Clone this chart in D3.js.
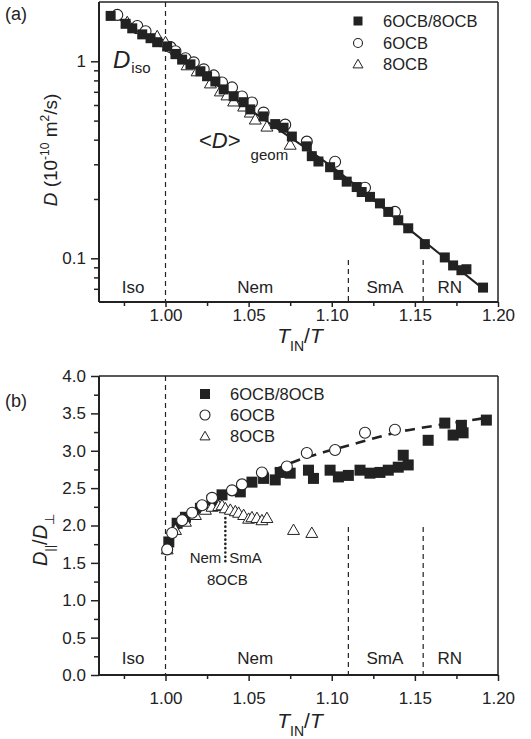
<!DOCTYPE html>
<html><head><meta charset="utf-8">
<script src="https://cdn.jsdelivr.net/npm/d3@7"></script>
<style>
body{margin:0;background:#fff}
svg{display:block}
text{font-family:"Liberation Sans",Arial,Helvetica,sans-serif;fill:#222}
</style>
</head><body>
<svg id="c" width="531" height="739"></svg>
<script>
// ---------------- data ----------------
const xMajorTicks = [1.00, 1.05, 1.10, 1.15, 1.20];
const xTickLabels = ["1.00", "1.05", "1.10", "1.15", "1.20"];
const xMinorTicks = [0.975, 1.025, 1.075, 1.125, 1.175];
const aYMajorTicks = [0.1, 1];
const aYTickLabels = ["0.1", "1"];
const aYMinorTicks = [0.07, 0.08, 0.09, 0.2, 0.3, 0.4, 0.5, 0.6, 0.7, 0.8, 0.9];
const bYMajorTicks = [0, 0.5, 1.0, 1.5, 2.0, 2.5, 3.0, 3.5, 4.0];
const bYTickLabels = ["0.0", "0.5", "1.0", "1.5", "2.0", "2.5", "3.0", "3.5", "4.0"];
const bYMinorTicks = [0.25, 0.75, 1.25, 1.75, 2.25, 2.75, 3.25, 3.75];
const phaseNames = ["Iso", "Nem", "SmA", "RN"];
const phaseNameX = [0.9805, 1.054, 1.132, 1.171];
const phaseBounds = [1.00, 1.11, 1.155];
const legendNames = ["6OCB/8OCB", "6OCB", "8OCB"];

// panel (a): D (1e-10 m^2/s)
const aMixX = [0.967,0.976,0.980,0.986,0.991,0.995,1.001,1.006,1.010,1.015,1.021,1.025,1.030,1.035,1.041,1.047,1.051,1.059,1.066,1.071,1.076,1.085,1.088,1.092,1.099,1.104,1.109,1.115,1.118,1.123,1.129,1.134,1.140,1.146,1.156,1.168,1.173,1.178,1.181,1.191];
const aMixY = [1.70,1.55,1.47,1.37,1.31,1.25,1.19,1.09,1.02,0.965,0.89,0.84,0.79,0.72,0.665,0.62,0.57,0.525,0.48,0.46,0.415,0.37,0.33,0.31,0.29,0.265,0.245,0.23,0.217,0.205,0.19,0.172,0.156,0.142,0.118,0.101,0.092,0.087,0.088,0.071];
const a6X = [0.971,0.983,0.988,1.003,1.006,1.012,1.017,1.023,1.029,1.034,1.040,1.046,1.052,1.059,1.072,1.085,1.102,1.120,1.138];
const a6Y = [1.72,1.51,1.42,1.18,1.125,1.036,0.988,0.91,0.848,0.781,0.737,0.663,0.618,0.549,0.477,0.391,0.309,0.228,0.172];
const a8X = [0.977,0.985,0.995,1.000,1.007,1.013,1.019,1.027,1.033,1.037,1.041,1.047,1.051,1.054,1.061,1.075];
const a8Y = [1.58,1.457,1.341,1.25,1.086,0.954,0.889,0.772,0.703,0.671,0.625,0.589,0.549,0.506,0.466,0.377];
const aFitX = [0.966, 1.000, 1.050, 1.100, 1.150, 1.192];
const aFitY = [1.75, 1.18, 0.575, 0.292, 0.133, 0.069];

// panel (b): D_par / D_perp
const bMixX = [1.002,1.007,1.012,1.021,1.028,1.034,1.045,1.052,1.059,1.066,1.069,1.075,1.086,1.089,1.099,1.104,1.110,1.117,1.123,1.129,1.134,1.140,1.143,1.146,1.158,1.168,1.173,1.178,1.179,1.193];
const bMixY = [1.78,2.03,2.11,2.23,2.34,2.41,2.45,2.58,2.63,2.61,2.71,2.70,2.74,2.63,2.74,2.65,2.67,2.74,2.70,2.71,2.74,2.78,2.94,2.81,3.14,3.37,3.21,3.34,3.24,3.41];
const b6X = [1.001,1.004,1.010,1.016,1.022,1.028,1.040,1.046,1.058,1.073,1.085,1.102,1.120,1.138];
const b6Y = [1.68,1.90,2.07,2.17,2.27,2.37,2.47,2.55,2.71,2.79,2.97,3.01,3.24,3.28];
const b8X = [1.001,1.006,1.012,1.018,1.024,1.028,1.032,1.034,1.036,1.039,1.042,1.044,1.047,1.050,1.052,1.055,1.058,1.061,1.077,1.088];
const b8Y = [1.68,1.94,2.05,2.14,2.21,2.25,2.26,2.27,2.23,2.21,2.19,2.17,2.14,2.09,2.11,2.10,2.07,2.10,1.94,1.90];
const bFitX = [1.000,1.010,1.020,1.030,1.040,1.050,1.063,1.077,1.095,1.110,1.126,1.142,1.155,1.190];
const bFitY = [1.72,2.02,2.20,2.35,2.47,2.58,2.72,2.85,2.98,3.07,3.17,3.26,3.31,3.43];
const b8TransX = 1.036;

// ---------------- drawing ----------------
const svg = d3.select("#c");
const L = 99, R = 498;
const x = d3.scaleLinear().domain([0.96, 1.20]).range([L, R]);
const ink = "#222";

function zip(xs, ys){ return xs.map((v,i)=>({x:v, y:ys[i]})); }

function drawMarkers(g, pts, y, type, sz){
  if(type === "sq"){
    g.selectAll(null).data(pts).join("rect")
      .attr("x", d=>x(d.x)-sz/2).attr("y", d=>y(d.y)-sz/2)
      .attr("width", sz).attr("height", sz).attr("fill", ink);
  } else if(type === "ci"){
    g.selectAll(null).data(pts).join("circle")
      .attr("cx", d=>x(d.x)).attr("cy", d=>y(d.y)).attr("r", sz/2)
      .attr("fill", "#fff").attr("stroke", ink).attr("stroke-width", 1.1);
  } else {
    const sym = d3.symbol(d3.symbolTriangle, sz*sz*0.43);
    g.selectAll(null).data(pts).join("path")
      .attr("transform", d=>`translate(${x(d.x)},${y(d.y)+1})`)
      .attr("d", sym).attr("fill", "#fff").attr("stroke", ink).attr("stroke-width", 1);
  }
}

function legendItem(g, type, cx, cy, label, sz){
  if(type === "sq") g.append("rect").attr("x", cx-sz/2).attr("y", cy-sz/2).attr("width", sz).attr("height", sz).attr("fill", ink);
  else if(type === "ci") g.append("circle").attr("cx", cx).attr("cy", cy).attr("r", sz/2).attr("fill", "#fff").attr("stroke", ink).attr("stroke-width", 1.1);
  else g.append("path").attr("transform", `translate(${cx},${cy+1})`).attr("d", d3.symbol(d3.symbolTriangle, sz*sz*0.43)).attr("fill","#fff").attr("stroke",ink).attr("stroke-width",1);
  g.append("text").attr("x", cx+25).attr("y", cy+6).attr("font-size", 16.5).text(label);
}

function frame(g, top, bottom){
  g.append("line").attr("x1", L).attr("x2", R).attr("y1", top).attr("y2", top).attr("stroke", ink).attr("stroke-width", 1.5);
  g.append("line").attr("x1", R).attr("x2", R).attr("y1", top).attr("y2", bottom).attr("stroke", ink).attr("stroke-width", 1.5);
}

function xAxis(g, bottom, tMaj, tMin, pad){
  const ax = g.append("g").attr("transform", `translate(0,${bottom})`);
  ax.call(d3.axisBottom(x).tickValues(xMajorTicks).tickSize(tMaj).tickPadding(pad)
      .tickFormat((d,i)=>xTickLabels[i]));
  ax.append("g").call(d3.axisBottom(x).tickValues(xMinorTicks).tickSize(tMin).tickFormat(""))
    .call(s=>s.select(".domain").remove());
  ax.selectAll(".domain").attr("stroke", ink).attr("stroke-width", 2);
  ax.selectAll(".tick line").attr("stroke", ink).attr("stroke-width", 1.5);
  ax.selectAll("text").attr("font-size", 17).attr("fill", ink).attr("font-family", '"Liberation Sans",Arial,sans-serif');
  ax.select(".domain").attr("d", `M${L},0H${R}`);
}

function xTitle(g, yb){
  const t = g.append("text").attr("x", 300).attr("y", yb).attr("text-anchor", "middle").attr("font-size", 21);
  t.append("tspan").attr("font-style", "italic").text("T");
  t.append("tspan").attr("font-size", 14).attr("dy", 8).text("IN");
  t.append("tspan").attr("dy", -8).text("/");
  t.append("tspan").attr("font-style", "italic").text("T");
}

function phases(g, y, top, bottom, labelY, boundTops){
  phaseBounds.forEach((b,i)=>{
    g.append("line").attr("x1", x(b)).attr("x2", x(b)).attr("y1", boundTops[i]).attr("y2", bottom)
      .attr("stroke", ink).attr("stroke-width", 1.2).attr("stroke-dasharray", "5,4");
  });
  phaseNames.forEach((n,i)=>{
    g.append("text").attr("x", x(phaseNameX[i])).attr("y", labelY).attr("text-anchor", "middle")
      .attr("font-size", 17).text(n);
  });
}

// ===== panel (a) =====
const aTop = 2, aBot = 302;
const ya = d3.scaleLog().domain([0.06, 2.0]).range([aBot, aTop]);
const ga = svg.append("g");
frame(ga, aTop, aBot);
phases(ga, ya, aTop, aBot, 293, [aTop, 260, 260]);
{
  const ay = ga.append("g").attr("transform", `translate(${L},0)`);
  ay.call(d3.axisLeft(ya).tickValues(aYMajorTicks).tickSize(8).tickPadding(5).tickFormat((d,i)=>aYTickLabels[i]));
  ay.append("g").call(d3.axisLeft(ya).tickValues(aYMinorTicks).tickSize(5).tickFormat("")).call(s=>s.select(".domain").remove());
  ay.selectAll(".domain").attr("stroke", ink).attr("stroke-width", 2).attr("d", `M0,${aTop}V${aBot}`);
  ay.selectAll(".tick line").attr("stroke", ink).attr("stroke-width", 1.5);
  ay.selectAll("text").attr("font-size", 17).attr("fill", ink).attr("font-family", '"Liberation Sans",Arial,sans-serif');
}
xAxis(ga, aBot, 5, 4, 2);
xTitle(ga, 343);
ga.append("path").datum(zip(aFitX, aFitY))
  .attr("d", d3.line().x(d=>x(d.x)).y(d=>ya(d.y)).curve(d3.curveMonotoneX))
  .attr("fill", "none").attr("stroke", ink).attr("stroke-width", 2);
drawMarkers(ga.append("g"), zip(a8X, a8Y), ya, "tr", 12);
drawMarkers(ga.append("g"), zip(a6X, a6Y), ya, "ci", 11);
drawMarkers(ga.append("g"), zip(aMixX, aMixY), ya, "sq", 10);
legendItem(ga, "sq", 358, 21, legendNames[0], 9);
legendItem(ga, "ci", 358, 43, legendNames[1], 9);
legendItem(ga, "tr", 358, 64, legendNames[2], 10);
// D_iso
{
  const t = ga.append("text").attr("x", 113).attr("y", 68).attr("font-size", 24);
  t.append("tspan").attr("font-style", "italic").text("D");
  t.append("tspan").attr("font-size", 15).attr("dy", 5).attr("dx", 1).text("iso");
  const u = ga.append("text").attr("x", 199).attr("y", 148).attr("font-size", 22);
  u.append("tspan").text("<");
  u.append("tspan").attr("font-style", "italic").text("D");
  u.append("tspan").text(">");
  u.append("tspan").attr("font-size", 15).attr("dy", 12).attr("dx", 10).text("geom");
}
// y title (a)
{
  const t = ga.append("text").attr("transform", "translate(57,150) rotate(-90)")
    .attr("text-anchor", "middle").attr("font-size", 19);
  t.append("tspan").attr("font-style", "italic").text("D");
  t.append("tspan").text(" (10");
  t.append("tspan").attr("font-size", 12).attr("dy", -8).text("-10");
  t.append("tspan").attr("dy", 8).text(" m");
  t.append("tspan").attr("font-size", 12).attr("dy", -8).text("2");
  t.append("tspan").attr("dy", 8).text("/s)");
}
ga.append("text").attr("x", 5).attr("y", 20).attr("font-size", 18).text("(a)");

// ===== panel (b) =====
const bTop = 376, bBot = 675;
const yb = d3.scaleLinear().domain([0, 4]).range([bBot, bTop]);
const gb = svg.append("g");
frame(gb, bTop, bBot);
phases(gb, yb, bTop, bBot, 664, [bTop, 527, 527]);
{
  const ay = gb.append("g").attr("transform", `translate(${L},0)`);
  ay.call(d3.axisLeft(yb).tickValues(bYMajorTicks).tickSize(8).tickPadding(5).tickFormat((d,i)=>bYTickLabels[i]));
  ay.append("g").call(d3.axisLeft(yb).tickValues(bYMinorTicks).tickSize(5).tickFormat("")).call(s=>s.select(".domain").remove());
  ay.selectAll(".domain").attr("stroke", ink).attr("stroke-width", 2).attr("d", `M0,${bTop}V${bBot}`);
  ay.selectAll(".tick line").attr("stroke", ink).attr("stroke-width", 1.5);
  ay.selectAll("text").attr("font-size", 17).attr("fill", ink).attr("font-family", '"Liberation Sans",Arial,sans-serif');
}
xAxis(gb, bBot, 6, 4, 11);
xTitle(gb, 728);
gb.append("path").datum(zip(bFitX, bFitY))
  .attr("d", d3.line().x(d=>x(d.x)).y(d=>yb(d.y)).curve(d3.curveMonotoneX))
  .attr("fill", "none").attr("stroke", ink).attr("stroke-width", 2.6).attr("stroke-dasharray", "10,7");
// 8OCB Nem-SmA transition (dotted)
gb.append("line").attr("x1", x(b8TransX)).attr("x2", x(b8TransX)).attr("y1", yb(2.1)).attr("y2", yb(1.47))
  .attr("stroke", ink).attr("stroke-width", 2.6).attr("stroke-linecap", "round").attr("stroke-dasharray", "0.1,4.2");
gb.append("text").attr("x", x(b8TransX)-4).attr("y", 563).attr("text-anchor", "end").attr("font-size", 15).text("Nem");
gb.append("text").attr("x", x(b8TransX)+4).attr("y", 563).attr("font-size", 15).text("SmA");
gb.append("text").attr("x", x(b8TransX)+2).attr("y", 585).attr("text-anchor", "middle").attr("font-size", 15).text("8OCB");
drawMarkers(gb.append("g"), zip(bMixX, bMixY), yb, "sq", 11);
drawMarkers(gb.append("g"), zip(b8X, b8Y), yb, "tr", 12);
drawMarkers(gb.append("g"), zip(b6X, b6Y), yb, "ci", 11);
legendItem(gb, "sq", 205, 394, legendNames[0], 10);
legendItem(gb, "ci", 205, 415, legendNames[1], 10);
legendItem(gb, "tr", 205, 436, legendNames[2], 10);
{
  const t = gb.append("text").attr("transform", "translate(47,540) rotate(-90)")
    .attr("text-anchor", "middle").attr("font-size", 20);
  t.append("tspan").attr("font-style", "italic").text("D");
  t.append("tspan").attr("font-size", 13).attr("dy", 7).text("||");
  t.append("tspan").attr("dy", -7).text("/");
  t.append("tspan").attr("font-style", "italic").text("D");
  t.append("tspan").attr("font-size", 13).attr("dy", 7).text("⊥");
}
gb.append("text").attr("x", 5).attr("y", 407).attr("font-size", 18).text("(b)");
</script>
</body></html>
